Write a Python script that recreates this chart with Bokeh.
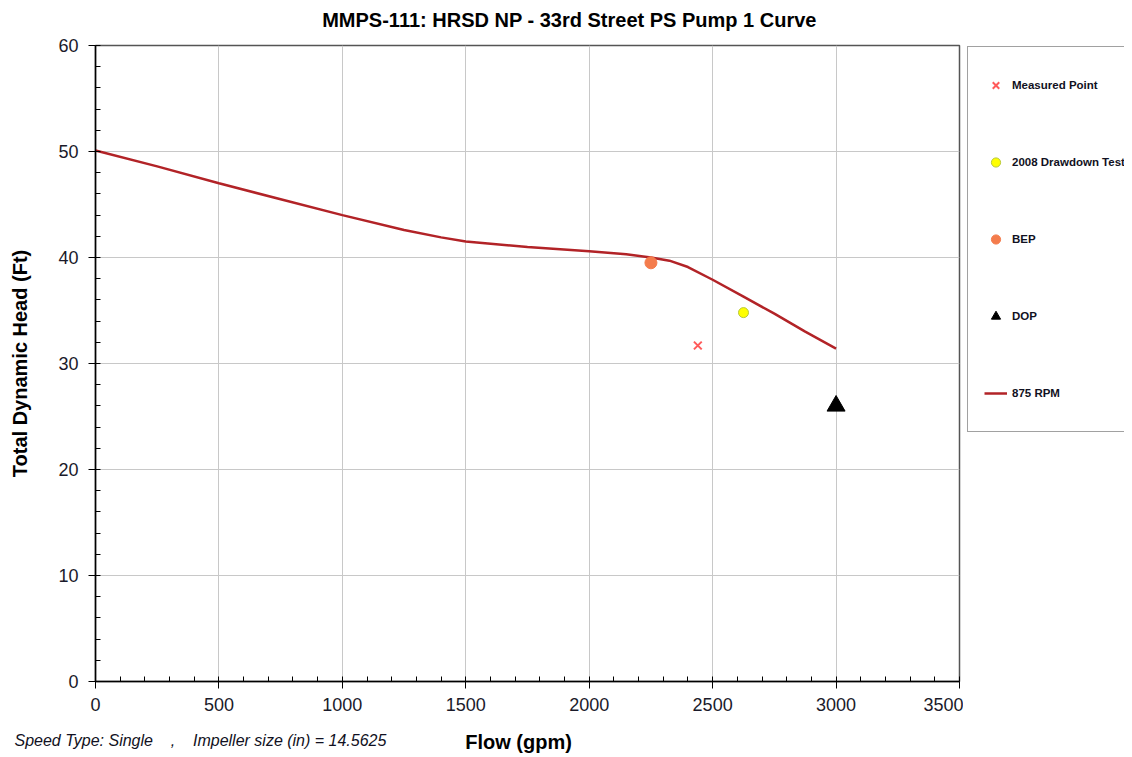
from bokeh.plotting import figure
from bokeh.models import Legend, LegendItem, Label, Range1d, FixedTicker
from bokeh.layouts import row, column
from bokeh.embed import file_html
from bokeh.resources import INLINE

# Pump curve (875 RPM)
curve_flow = [0, 250, 500, 750, 1000, 1250, 1400, 1500, 1750, 2000, 2150, 2250, 2325, 2400, 2500, 2625, 2750, 2875, 3000]
curve_head = [50.1, 48.6, 47.0, 45.5, 44.0, 42.6, 41.9, 41.5, 41.0, 40.6, 40.3, 40.0, 39.7, 39.1, 37.9, 36.3, 34.7, 33.0, 31.4]

measured_flow = [2440]
measured_head = [31.7]
drawdown_flow = [2625]
drawdown_head = [34.8]
bep_flow = [2250]
bep_head = [39.5]
dop_flow = [3000]
dop_head = [26.0]

x_ticks = [0, 500, 1000, 1500, 2000, 2500, 3000, 3500]
y_ticks = [0, 10, 20, 30, 40, 50, 60]

legend_labels = ["Measured Point", "2008 Drawdown Test", "BEP", "DOP", "875 RPM"]
title_text = "MMPS-111: HRSD NP - 33rd Street PS Pump 1 Curve"
x_label = "Flow (gpm)"
y_label = "Total Dynamic Head (Ft)"
note_text = "Speed Type: Single\u00a0\u00a0\u00a0\u00a0,\u00a0\u00a0\u00a0\u00a0Impeller size (in) = 14.5625"

FONT = "Liberation Sans"

# styles
CURVE = dict(line_color="#b22327", line_width=2.5)
MEAS = dict(marker="x", line_color="#ff5a5a", line_width=2)
DRAW = dict(marker="circle", fill_color="#ffff00", line_color="#b8c83a", line_width=1)
BEP = dict(marker="circle", fill_color="#f47c4c", line_color="#f47c4c")
DOP = dict(marker="triangle", fill_color="black", line_color="black")


def strip(width, height):
    f = figure(width=width, height=height, output_backend="svg", toolbar_location=None,
               x_range=Range1d(0, 1), y_range=Range1d(0, 1),
               x_axis_type=None, y_axis_type=None,
               min_border_left=0, min_border_right=0, min_border_top=0, min_border_bottom=0)
    f.outline_line_color = None
    return f


# ---------------- title strip ----------------
tt = strip(1124, 35)
tt.add_layout(Label(x=569, y=16, x_units="screen", y_units="screen", text=title_text,
                    text_font=FONT, text_font_size="20px", text_font_style="bold",
                    text_align="center", text_baseline="middle", text_color="#000000"))

# ---------------- main plot ----------------
p = figure(width=963, height=684, output_backend="svg", toolbar_location=None,
           x_range=Range1d(0, 3500), y_range=Range1d(0, 60),
           min_border_left=95, min_border_right=4, min_border_top=10, min_border_bottom=38)

p.outline_line_color = "#555555"
p.outline_line_width = 1.5

for ax, ticks, minors in ((p.xaxis[0], x_ticks, list(range(0, 3600, 100))),
                          (p.yaxis[0], y_ticks, list(range(0, 62, 2)))):
    ax.ticker = FixedTicker(ticks=ticks, minor_ticks=minors)
    ax.axis_line_color = "black"
    ax.axis_line_width = 1.5
    ax.major_tick_out = 7
    ax.major_tick_in = 0
    ax.minor_tick_in = 5
    ax.minor_tick_out = 0
    ax.major_tick_line_color = "black"
    ax.minor_tick_line_color = "black"
    ax.major_label_text_font = FONT
    ax.major_label_text_font_size = "18px"
    ax.major_label_text_color = "#1a1a2a"
    ax.axis_label_text_font = FONT
    ax.axis_label_text_font_size = "20px"
    ax.axis_label_text_font_style = "bold"
    ax.axis_label_text_color = "#000000"

p.yaxis.axis_label = y_label
p.xaxis.major_label_standoff = 9
p.yaxis.major_label_standoff = 10
p.yaxis.axis_label_standoff = 24

p.grid.grid_line_color = "#c8c8c8"
p.grid.grid_line_width = 1
p.xgrid.ticker = FixedTicker(ticks=x_ticks)
p.ygrid.ticker = FixedTicker(ticks=y_ticks)

p.line(curve_flow, curve_head, **CURVE)
p.scatter(measured_flow, measured_head, size=11, **MEAS)
p.scatter(drawdown_flow, drawdown_head, size=10, **DRAW)
p.scatter(bep_flow, bep_head, size=12, **BEP)
p.scatter(dop_flow, dop_head, size=18, **DOP)

# ---------------- legend panel ----------------
# same series, drawn outside this panel's visible range so that only the legend shows
lg = strip(161, 684)
l_meas = lg.scatter(measured_flow, measured_head, **MEAS)
l_draw = lg.scatter(drawdown_flow, drawdown_head, **DRAW)
l_bep = lg.scatter(bep_flow, bep_head, **BEP)
l_dop = lg.scatter(dop_flow, dop_head, **DOP)
l_curve = lg.line(curve_flow, curve_head, **CURVE)

legend = Legend(items=[
    LegendItem(label=legend_labels[0], renderers=[l_meas]),
    LegendItem(label=legend_labels[1], renderers=[l_draw]),
    LegendItem(label=legend_labels[2], renderers=[l_bep]),
    LegendItem(label=legend_labels[3], renderers=[l_dop]),
    LegendItem(label=legend_labels[4], renderers=[l_curve]),
], location=(4, 249), orientation="vertical",
    padding=16, spacing=33, label_height=44, glyph_height=44, glyph_width=23,
    label_standoff=5, margin=0,
    label_text_font=FONT, label_text_font_size="11.5px", label_text_font_style="bold",
    label_text_color="#111122",
    border_line_color="#444444", border_line_width=1.5, background_fill_alpha=1)
lg.add_layout(legend, "center")

# ---------------- bottom strip ----------------
bt = strip(1124, 36)
bt.add_layout(Label(x=14, y=15, x_units="screen", y_units="screen", text=note_text,
                    text_font=FONT, text_font_size="16px", text_font_style="italic",
                    text_baseline="middle", text_color="#111122"))
bt.add_layout(Label(x=518, y=14, x_units="screen", y_units="screen", text=x_label,
                    text_font=FONT, text_font_size="20px", text_font_style="bold",
                    text_align="center", text_baseline="middle", text_color="#000000"))

layout = column(tt, row(p, lg, spacing=0), bt, spacing=0)
open("out.html", "w").write(file_html(layout, INLINE))
